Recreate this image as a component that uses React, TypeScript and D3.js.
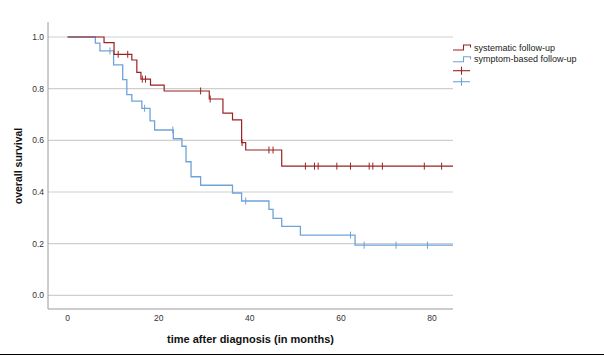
import React from "react";
import * as d3 from "d3";

// Systematic follow-up (red)
const sysTimes = [0, 8.0, 10.2, 14.1, 15.2, 16.1, 18.2, 21.2, 31.1, 34.1, 36.2, 38.2, 39.1, 47.0];
const sysSurv = [1.0, 0.978, 0.933, 0.911, 0.863, 0.837, 0.814, 0.791, 0.76, 0.705, 0.679, 0.591, 0.5625, 0.5];
const sysCensor = [11.1, 13.2, 16.4, 17.1, 29.2, 31.3, 38.3, 44.2, 45.1, 52.2, 54.2, 55.0, 59.1, 62.1, 66.2, 67.0, 69.1, 78.3, 82.1];

// Symptom-based follow-up (blue)
const symTimes = [0, 6.1, 7.1, 10.1, 12.1, 13.0, 14.1, 16.3, 18.1, 19.1, 23.2, 25.1, 26.0, 27.1, 29.2, 36.2, 38.2, 44.2, 45.1, 47.0, 51.1, 63.1];
const symSurv = [1.0, 0.976, 0.946, 0.892, 0.835, 0.777, 0.752, 0.724, 0.675, 0.64, 0.606, 0.577, 0.517, 0.459, 0.426, 0.396, 0.365, 0.333, 0.298, 0.267, 0.233, 0.194];
const symCensor = [9.3, 16.9, 23.1, 39.1, 62.1, 65.1, 72.1, 79.0];

const xTicks = [0, 20, 40, 60, 80];
const yTicks = [0, 0.2, 0.4, 0.6, 0.8, 1.0];
const legendLabels = ["systematic follow-up", "symptom-based follow-up"];
const endTime = 84.6;

const RED = "#9b2222";
const BLUE = "#6ea3d8";

function survAt(times: number[], surv: number[], t: number) {
  let v = surv[0];
  for (let i = 0; i < times.length; i++) if (times[i] <= t) v = surv[i];
  return v;
}

export default function App() {
  const W = 604, H = 356;
  const x = d3.scaleLinear().domain([-4.3, 84.6]).range([48, 453]);
  const y = d3.scaleLinear().domain([0, 1]).range([295.3, 37]);
  const yTop = y(1.058), yBot = y(-0.053);
  const line = d3.line<[number, number]>().x(d => x(d[0])).y(d => y(d[1])).curve(d3.curveStepAfter);

  const sysPts: [number, number][] = sysTimes.map((t, i) => [t, sysSurv[i]] as [number, number]);
  sysPts.push([endTime, sysSurv[sysSurv.length - 1]]);
  const symPts: [number, number][] = symTimes.map((t, i) => [t, symSurv[i]] as [number, number]);
  symPts.push([endTime, symSurv[symSurv.length - 1]]);

  const font = "Arial, 'Liberation Sans', sans-serif";
  const fmt = d3.format(".1f");

  return (
    <svg width={W} height={H} style={{ position: "absolute", left: 0, top: 0, background: "#fff" }}>
      {/* gridlines */}
      {yTicks.map(t => (
        <line key={"g" + t} x1={48} x2={453} y1={y(t)} y2={y(t)} stroke="#cfcfcf" strokeWidth={1.2} />
      ))}
      {/* axes */}
      <line x1={48} x2={48} y1={yTop} y2={yBot} stroke="#9a9a9a" strokeWidth={1} />
      <line x1={48} x2={453} y1={yBot} y2={yBot} stroke="#9a9a9a" strokeWidth={1} />
      {yTicks.map(t => (
        <text key={"yl" + t} x={44} y={y(t)} dy="0.35em" textAnchor="end" fontSize={8.5} fill="#333" fontFamily={font}>
          {fmt(t)}
        </text>
      ))}
      {xTicks.map(t => (
        <text key={"xl" + t} x={x(t)} y={321} textAnchor="middle" fontSize={8.5} fill="#333" fontFamily={font}>
          {t}
        </text>
      ))}
      {/* curves */}
      <path d={line(symPts) || ""} fill="none" stroke={BLUE} strokeWidth={1.3} />
      <path d={line(sysPts) || ""} fill="none" stroke={RED} strokeWidth={1.2} />
      {symCensor.map((t, i) => (
        <line key={"sc" + i} x1={x(t)} x2={x(t)} y1={y(survAt(symTimes, symSurv, t)) - 3.5} y2={y(survAt(symTimes, symSurv, t)) + 3.5} stroke={BLUE} strokeWidth={1} />
      ))}
      {sysCensor.map((t, i) => (
        <line key={"rc" + i} x1={x(t)} x2={x(t)} y1={y(survAt(sysTimes, sysSurv, t)) - 3.5} y2={y(survAt(sysTimes, sysSurv, t)) + 3.5} stroke={RED} strokeWidth={1} />
      ))}
      {/* legend */}
      <path d="M453,50 H463.5 V45 H470.5 V47.5" fill="none" stroke={RED} strokeWidth={1.1} />
      <text x={474} y={50.5} fontSize={9} fill="#222" fontFamily={font}>{legendLabels[0]}</text>
      <path d="M453,61.7 H463.5 V56.7 H470.5 V59.2" fill="none" stroke={BLUE} strokeWidth={1.1} />
      <text x={474} y={62} fontSize={9} fill="#222" fontFamily={font}>{legendLabels[1]}</text>
      <line x1={453} x2={470} y1={70.7} y2={70.7} stroke={RED} strokeWidth={1.1} />
      <line x1={461.5} x2={461.5} y1={66.7} y2={74.7} stroke={RED} strokeWidth={1.1} />
      <line x1={453} x2={470} y1={81.7} y2={81.7} stroke={BLUE} strokeWidth={1.1} />
      <line x1={461.5} x2={461.5} y1={77.7} y2={85.7} stroke={BLUE} strokeWidth={1.1} />
      {/* axis titles */}
      <text transform={`translate(22,${166}) rotate(-90)`} textAnchor="middle" fontSize={10.5} fontWeight="bold" fill="#111" fontFamily={font}>
        overall survival
      </text>
      <text x={250.5} y={343} textAnchor="middle" fontSize={11} fontWeight="bold" fill="#111" fontFamily={font}>
        time after diagnosis (in months)
      </text>
      <line x1={0} x2={W} y1={354.5} y2={354.5} stroke="#000" strokeWidth={1} />
    </svg>
  );
}
